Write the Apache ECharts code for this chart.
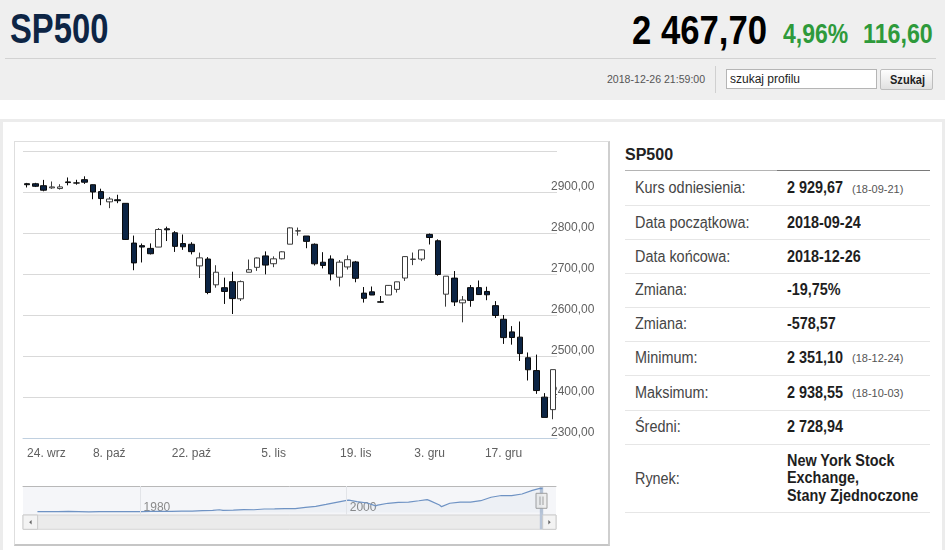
<!DOCTYPE html>
<html lang="pl">
<head>
<meta charset="utf-8">
<title>SP500</title>
<script src="https://cdn.jsdelivr.net/npm/echarts@6.0.0/dist/echarts.min.js"></script>
<style>
html,body{margin:0;padding:0;}
body{width:945px;height:550px;overflow:hidden;background:#fff;font-family:"Liberation Sans",Arial,Helvetica,sans-serif;position:relative;}
.t{position:absolute;white-space:nowrap;transform-origin:0 0;line-height:1;}
.box{position:absolute;box-sizing:border-box;}
</style>
</head>
<body>
<!-- header -->
<div class="box" style="left:0;top:0;width:945px;height:100px;background:#efefef"></div>
<div class="t" style="left:10px;top:8.4px;font-size:42px;font-weight:bold;color:#0d2545;transform:scaleX(.78)">SP500</div>
<div class="t" style="left:632px;top:10.1px;font-size:40px;font-weight:bold;color:#000;transform:scaleX(.867)">2&nbsp;467,70</div>
<div class="t" style="left:783px;top:20.3px;font-size:28px;font-weight:bold;color:#2e9a3b;transform:scaleX(.82)">4,96%</div>
<div class="t" style="left:863px;top:20.3px;font-size:28px;font-weight:bold;color:#2e9a3b;transform:scaleX(.83)">116,60</div>
<div class="box" style="left:5px;top:58px;width:931px;height:1px;background:#d2d2d2"></div>
<div class="t" style="left:607px;top:73.7px;font-size:11px;color:#555;transform:scaleX(.96)">2018-12-26 21:59:00</div>
<div class="box" style="left:715px;top:66px;width:1px;height:27px;background:#d0d0d0"></div>
<div class="box" style="left:726px;top:69px;width:151px;height:20px;background:#fff;border:1px solid #b5b5b5"></div>
<div class="t" style="left:730px;top:72.5px;font-size:12px;color:#222">szukaj profilu</div>
<div class="box" style="left:880px;top:69px;width:53px;height:21px;border:1px solid #bdbdbd;border-radius:2px;background:linear-gradient(#fdfdfd,#e1e1e1)"></div>
<div class="t" style="left:890px;top:73.5px;font-size:12px;font-weight:bold;color:#222;transform:scaleX(.92)">Szukaj</div>

<!-- content frame -->
<div class="box" style="left:0;top:119px;width:945px;height:440px;border:3px solid #ececec;border-bottom:none"></div>
<div class="box" style="left:14px;top:141px;width:596px;height:405px;border:1px solid #dedede;border-right:2px solid #cfcfcf;border-bottom:2px solid #c6c6c6"></div>
<div id="chart" style="position:absolute;left:14px;top:141px;width:595px;height:402px"></div>

<!-- side table -->
<div class="t" style="left:625px;top:146.5px;font-size:16px;font-weight:bold;color:#222">SP500</div>
<div class="box" style="left:625px;top:170px;width:152px;height:1px;background:#b4b4b4"></div>
<div class="box" style="left:777px;top:170px;width:153px;height:1px;background:#7a7a7a"></div>
<div id="tbl"></div>

<script>
// ---------- chart data ----------
const dates = ['2018-09-24','2018-09-25','2018-09-26','2018-09-27','2018-09-28','2018-10-01','2018-10-02','2018-10-03','2018-10-04','2018-10-05',
  '2018-10-08','2018-10-09','2018-10-10','2018-10-11','2018-10-12','2018-10-15','2018-10-16','2018-10-17','2018-10-18','2018-10-19',
  '2018-10-22','2018-10-23','2018-10-24','2018-10-25','2018-10-26','2018-10-29','2018-10-30','2018-10-31','2018-11-01','2018-11-02',
  '2018-11-05','2018-11-06','2018-11-07','2018-11-08','2018-11-09','2018-11-12','2018-11-13','2018-11-14','2018-11-15','2018-11-16',
  '2018-11-19','2018-11-20','2018-11-21','2018-11-23','2018-11-26','2018-11-27','2018-11-28','2018-11-29','2018-11-30',
  '2018-12-03','2018-12-04','2018-12-06','2018-12-07','2018-12-10','2018-12-11','2018-12-12','2018-12-13','2018-12-14',
  '2018-12-17','2018-12-18','2018-12-19','2018-12-20','2018-12-21','2018-12-24','2018-12-26'];
const opens = [2921.83,2921.75,2916.98,2911.65,2910.03,2926.29,2923.80,2931.69,2919.35,2902.54,
  2877.53,2882.51,2873.90,2776.87,2770.54,2763.83,2767.05,2811.67,2802.00,2775.66,
  2773.94,2721.03,2737.87,2674.88,2667.86,2682.65,2640.68,2705.60,2717.58,2745.45,
  2726.37,2738.40,2774.13,2806.38,2794.10,2773.93,2730.05,2737.90,2693.52,2718.54,
  2730.74,2654.60,2657.74,2633.36,2649.97,2663.75,2691.45,2736.97,2737.76,
  2798.00,2782.43,2652.00,2691.26,2630.86,2668.00,2668.00,2658.70,2624.00,
  2590.75,2559.90,2547.05,2496.77,2465.38,2400.56,2370.00];
const highs = [2923.79,2923.95,2931.15,2927.22,2920.53,2937.06,2931.42,2939.86,2919.78,2909.64,
  2889.45,2894.83,2874.02,2795.14,2775.77,2775.99,2813.46,2816.94,2806.04,2797.77,
  2778.94,2753.59,2742.59,2722.70,2692.38,2706.85,2685.43,2736.69,2741.67,2756.55,
  2744.27,2756.82,2815.15,2814.75,2794.10,2775.99,2754.60,2746.80,2735.38,2746.75,
  2733.16,2669.44,2670.73,2647.55,2674.35,2682.53,2744.00,2753.75,2760.88,
  2800.18,2785.93,2696.15,2708.54,2647.51,2674.35,2685.44,2670.19,2635.07,
  2601.13,2573.99,2585.29,2509.63,2504.41,2410.34,2467.76];
const lows = [2912.63,2913.70,2903.28,2909.27,2907.50,2917.91,2919.37,2921.36,2883.92,2869.29,
  2862.08,2874.27,2784.86,2710.51,2729.44,2749.03,2766.91,2781.81,2755.18,2760.27,
  2749.22,2691.43,2651.89,2667.84,2628.16,2603.54,2635.34,2705.60,2708.85,2700.44,
  2717.94,2737.08,2774.13,2794.99,2764.24,2722.00,2714.98,2685.75,2670.75,2712.16,
  2681.09,2631.52,2649.82,2631.09,2649.97,2655.89,2684.38,2722.94,2732.76,
  2773.38,2697.18,2621.53,2623.14,2583.23,2621.30,2650.26,2637.27,2593.84,
  2530.54,2528.71,2488.96,2441.18,2408.55,2351.10,2346.58];
const closes = [2919.37,2915.56,2905.97,2914.00,2913.98,2924.59,2923.43,2925.51,2901.61,2885.57,
  2884.43,2880.34,2785.68,2728.37,2767.13,2750.79,2809.92,2809.21,2768.78,2767.78,
  2755.88,2740.69,2656.10,2705.57,2658.69,2641.25,2682.63,2711.74,2740.37,2723.06,
  2738.31,2755.45,2813.89,2806.83,2781.01,2726.22,2722.18,2701.58,2730.20,2736.27,
  2690.73,2641.89,2649.93,2632.56,2673.45,2682.17,2743.79,2737.80,2760.17,
  2790.37,2700.06,2695.95,2633.08,2637.72,2636.78,2651.07,2650.54,2599.95,
  2545.94,2546.16,2506.96,2467.42,2416.62,2351.10,2467.70];

const tickDates  = ['2018-09-24','2018-10-08','2018-10-22','2018-11-05','2018-11-19','2018-12-03','2018-12-17'];
const tickLabels = ['24. wrz','8. paź','22. paź','5. lis','19. lis','3. gru','17. gru'];

// navigator (long history)
const navYears  = [1970,1971,1972,1973,1974,1975,1976,1977,1978,1979,1980,1981,1982,1983,1984,1985,1986,1987,1987.65,1988,1989,
  1990,1991,1992,1993,1994,1995,1996,1997,1998,1999,2000,2000.2,2001,2002,2002.8,2003,2004,2005,2006,2007,2007.8,2008,2009,2009.2,
  2010,2011,2012,2013,2014,2015,2016,2017,2018,2018.73,2018.99];
const navValues = [92,92,102,118,97,69,90,107,95,96,108,136,122,141,165,167,211,242,330,247,278,
  353,330,417,436,466,459,616,741,970,1229,1469,1500,1320,1148,800,880,1112,1212,1248,1418,1560,1468,903,700,
  1115,1258,1258,1426,1848,2059,2044,2239,2674,2930,2900];
const navTickYears  = [1980, 2000];
const navTickLabels = ['1980', '2000'];
const navRange = [1968.6, 2020.3];
const navSelected = [2018.73, 2018.99];

// side table
const statLabels = ['Kurs odniesienia:','Data początkowa:','Data końcowa:','Zmiana:','Zmiana:','Minimum:','Maksimum:','Średni:','Rynek:'];
const statValues = ['2\u00a0929,67','2018-09-24','2018-12-26','-19,75%','-578,57','2\u00a0351,10','2\u00a0938,55','2\u00a0728,94',
  'New York Stock<br>Exchange,<br>Stany Zjednoczone'];
const statDates  = ['(18-09-21)','','','','','(18-12-24)','(18-10-03)','',''];

// ---------- side table render ----------
(function(){
  const seps = [205.3,239.3,273.3,306.7,340.7,375.3,410,444.3,512.3];
  let prev = 171, html = '';
  statLabels.forEach((lab,i)=>{
    const c = (prev + seps[i]) / 2;
    html += '<div class="t" style="left:635px;top:'+(c-7.8)+'px;font-size:16px;color:#454545;transform:scaleX(.9)">'+lab+'</div>';
    if (i === statLabels.length-1) {
      html += '<div class="t" style="left:787px;top:'+(c-26.7)+'px;font-size:16px;line-height:17.8px;font-weight:bold;color:#1e1e1e;transform:scaleX(.9)">'+statValues[i]+'</div>';
    } else {
      html += '<div class="t" style="left:787px;top:'+(c-7.8)+'px;font-size:16px;font-weight:bold;color:#1e1e1e;transform:scaleX(.9)">'+statValues[i]+'</div>';
    }
    if (statDates[i]) html += '<div class="t" style="left:852px;top:'+(c-4.6)+'px;font-size:11px;color:#555">'+statDates[i]+'</div>';
    html += '<div class="box" style="left:625px;top:'+seps[i]+'px;width:305px;height:1px;background:#e6e6e6"></div>';
    prev = seps[i];
  });
  document.getElementById('tbl').innerHTML = html;
})();

// ---------- chart ----------
const FONT = '"Liberation Sans", Arial, sans-serif';
const navLeft = 9, navTop = 345, navW = 533, navH = 29, sbH = 14.3;
const chart = echarts.init(document.getElementById('chart'));
const ohlc = dates.map((d,i)=>[opens[i], closes[i], lows[i], highs[i]]);
const showTick = (i, v) => tickDates.indexOf(v) >= 0;

chart.setOption({
  animation: false,
  textStyle: {fontFamily: FONT},
  grid: [
    {left: 9, top: 10.7, width: 534, height: 286.6},
    {left: navLeft, top: navTop, width: navW, height: navH, show: true, backgroundColor: '#f5f6f9', borderWidth: 0}
  ],
  xAxis: [
    {type: 'category', gridIndex: 0, data: dates, boundaryGap: true,
      axisLine: {lineStyle: {color: '#c0d0e0'}},
      axisTick: {alignWithLabel: true, length: 6, interval: showTick, lineStyle: {color: '#c0d0e0'}},
      axisLabel: {interval: showTick, formatter: v => tickLabels[tickDates.indexOf(v)], color: '#606060',
        fontSize: 12, fontFamily: FONT, margin: 9, alignMinLabel: 'left'},
      splitLine: {show: false}},
    {type: 'value', gridIndex: 1, min: navRange[0], max: navRange[1],
      axisLine: {show: false}, axisTick: {show: false}, splitLine: {show: false},
      axisLabel: {inside: true, customValues: navTickYears, formatter: v => navTickLabels[navTickYears.indexOf(v)],
        color: '#8a8a8a', fontSize: 12, fontFamily: FONT, align: 'left', padding: [0,0,0,3], margin: 1}},
    {type: 'value', gridIndex: 1, position: 'top', min: navRange[0], max: navRange[1],
      axisLine: {show: true, lineStyle: {color: '#b8b8b8'}}, axisTick: {show: false}, axisLabel: {show: false}, splitLine: {show: false}}
  ],
  yAxis: [
    {type: 'value', gridIndex: 0, position: 'right', min: 2300, max: 3000, interval: 100,
      axisLine: {show: false}, axisTick: {show: false},
      splitLine: {lineStyle: {color: '#d9d9d9'}},
      axisLabel: {margin: -6, align: 'left', verticalAlign: 'bottom', color: '#606060', fontSize: 12, fontFamily: FONT,
        formatter: v => v >= 3000 ? '' : v.toFixed(2).replace('.', ',')}},
    {type: 'value', gridIndex: 1, min: -310, max: 3210, show: false}
  ],
  series: [
    {type: 'candlestick', xAxisIndex: 0, yAxisIndex: 0, data: ohlc, barWidth: 6,
      itemStyle: {color: '#ffffff', color0: '#0c2444', borderColor: '#3c3c3c', borderColor0: '#0a0a0a',
        borderColorDoji: '#222222', borderWidth: 1}},
    {type: 'line', xAxisIndex: 1, yAxisIndex: 1, data: navYears.map((y,i)=>[y, navValues[i]]),
      symbol: 'none', showSymbol: false, silent: true,
      lineStyle: {color: '#6f93c4', width: 1.2}, areaStyle: {color: 'rgba(69,114,167,0.06)'},
      markLine: {silent: true, symbol: 'none', label: {show: false},
        lineStyle: {color: '#e2e4e8', type: 'solid', width: 1},
        data: navTickYears.map(y => ({xAxis: y}))}}
  ]
});

const x0 = chart.convertToPixel({xAxisIndex: 1}, navSelected[0]);
const x1 = chart.convertToPixel({xAxisIndex: 1}, navSelected[1]);
const selW = Math.max(x1 - x0, 3.4);
const hc = x0 + selW / 2;
const sbY = navTop + navH;
const rbX = navLeft + navW - 13.3;
chart.setOption({
  graphic: [
    {type: 'rect', shape: {x: navLeft, y: sbY, width: navW, height: sbH}, style: {fill: '#ebebeb', stroke: '#d6d6d6', lineWidth: 1}},
    {type: 'rect', shape: {x: navLeft, y: sbY, width: 14.6, height: sbH}, style: {fill: '#f3f3f3', stroke: '#cccccc', lineWidth: 1}},
    {type: 'polygon', shape: {points: [[navLeft+8.6, sbY+5], [navLeft+8.6, sbY+9.4], [navLeft+6.2, sbY+7.2]]}, style: {fill: '#666'}},
    {type: 'rect', shape: {x: x0, y: navTop, width: selW, height: navH + sbH}, style: {fill: '#b8c5d8'}},
    {type: 'rect', shape: {x: rbX, y: sbY, width: 13.3, height: sbH}, style: {fill: '#f3f3f3', stroke: '#cccccc', lineWidth: 1}},
    {type: 'polygon', shape: {points: [[rbX+5.6, sbY+5], [rbX+5.6, sbY+9.4], [rbX+8, sbY+7.2]]}, style: {fill: '#666'}},
    {type: 'rect', shape: {x: hc - 5.5, y: navTop + 7.3, width: 11, height: 15}, style: {fill: '#eeeeee', stroke: '#a0a0a0', lineWidth: 1}},
    {type: 'line', shape: {x1: hc - 1.5, y1: navTop + 10.5, x2: hc - 1.5, y2: navTop + 19}, style: {stroke: '#a0a0a0', lineWidth: 1}},
    {type: 'line', shape: {x1: hc + 1.5, y1: navTop + 10.5, x2: hc + 1.5, y2: navTop + 19}, style: {stroke: '#a0a0a0', lineWidth: 1}}
  ]
});
</script>
</body>
</html>
